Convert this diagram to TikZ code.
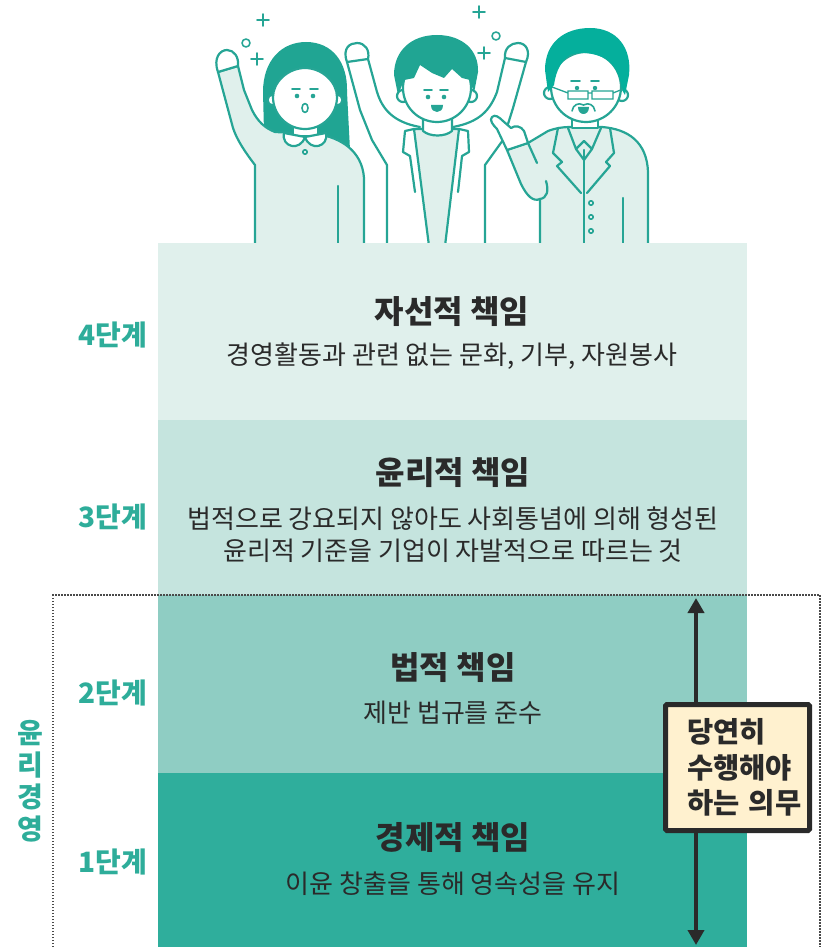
\documentclass[tikz,border=0pt]{standalone}
\usepackage{fontspec}
\usetikzlibrary{arrows.meta}
\newfontfamily\kr{Noto Sans CJK KR}
\definecolor{tline}{HTML}{26A595}
\definecolor{hairA}{HTML}{20A593}
\definecolor{hairB}{HTML}{05AF9C}
\definecolor{cloth}{HTML}{E0F0EC}
\definecolor{bandD}{HTML}{E0F0EC}
\definecolor{bandC}{HTML}{C5E4DE}
\definecolor{bandB}{HTML}{8FCDC3}
\definecolor{bandA}{HTML}{2FAE9C}
\definecolor{ink}{HTML}{2A2A2A}
\definecolor{stagecol}{HTML}{2EAD9A}
\definecolor{notefill}{HTML}{FFF1CF}
\definecolor{framecol}{HTML}{4A4A4A}

\begin{document}
\begin{tikzpicture}[x=1pt,y=-1pt,
  outline/.style={draw=tline, line width=2.2pt, line join=round, line cap=round},
  fine/.style={draw=tline, line width=1.6pt, line cap=round, line join=round},
  band/.style={draw=none, minimum width=589pt, inner sep=0pt, outer sep=0pt},
  title/.style={font=\kr\bfseries\fontsize{32}{38}\selectfont, text=ink, inner sep=0pt},
  desc/.style={font=\kr\fontsize{26}{32}\selectfont, text=ink, align=center, inner sep=0pt},
  stage/.style={font=\kr\bfseries\fontsize{28}{32}\selectfont, text=stagecol, inner sep=0pt, align=center},
  notebox/.style={draw=ink, line width=5pt, fill=notefill, rounded corners=1.5pt,
    minimum width=144pt, minimum height=126pt, text width=101pt, align=left,
    font=\kr\bfseries\fontsize{28.5}{35.5}\selectfont, text=ink, inner sep=0pt},
  dutyarrow/.style={draw=ink, line width=4pt, -{Triangle[width=16pt,length=15pt]}},
  frame/.style={draw=framecol, line width=1.5pt, dash pattern=on 1.5pt off 1.5pt}
]
\useasboundingbox (0,0) rectangle (828,947);

% ---------- sparkles ----------
\draw[fine] (263,14) -- (263,26) (257,20) -- (269,20);
\draw[fine] (257,53) -- (257,65) (251,59) -- (263,59);
\draw[fine] (246,43) circle[radius=4];
\draw[fine] (479,6) -- (479,18) (473,12) -- (485,12);
\draw[fine] (484,47) -- (484,59) (478,53) -- (490,53);
\draw[fine] (496,36) circle[radius=4];

% ---------- woman ----------
\fill[hairA] (264,132) -- (263,92) .. controls (263,60) and (282,42) .. (306,42)
  .. controls (332,42) and (348,62) .. (347,92) -- (350,150) -- (300,140) -- cycle;
\filldraw[outline, fill=cloth] (238,66) -- (244,90) -- (252,110)
  .. controls (258,122) and (265,128) .. (275,132) -- (318,134)
  .. controls (340,138) and (362,150) .. (364,178) -- (364,246) -- (255,246) -- (255,165)
  .. controls (245,152) and (237,140) .. (233,128) -- (218,72) -- cycle;
\filldraw[outline, fill=white] (218,72) .. controls (213,58) and (220,50) .. (227,50)
  .. controls (234,50) and (239,57) .. (238,66) -- cycle;
\draw[outline] (338,186) -- (338,246);
\filldraw[outline, fill=white] (293,122) -- (293,136) -- (318,136) -- (318,122);
\filldraw[outline, fill=white] (273,100) circle[radius=5.5];
\filldraw[outline, fill=white] (337,100) circle[radius=5.5];
\filldraw[outline, fill=white] (273,97) .. controls (273,114.7) and (287.3,129) .. (305,129)
  .. controls (322.7,129) and (337,114.7) .. (337,97)
  .. controls (337,82) and (322,68) .. (305,68)
  .. controls (288,68) and (273,82) .. (273,97) -- cycle;
\fill[hairA] (272,95) .. controls (276,78) and (284,66) .. (298,63)
  .. controls (308,62) and (318,66) .. (323,69) .. controls (330,66) and (337,76) .. (338,90)
  -- (340,70) -- (300,52) -- (268,70) -- cycle;
\filldraw[outline, fill=white] (284,133) .. controls (281,147) and (300,152) .. (305,137) -- cycle;
\filldraw[outline, fill=white] (326,133) .. controls (329,147) and (310,152) .. (305,137) -- cycle;
\draw[fine] (305,152) circle[radius=2.2];
\fill[tline] (297,96) circle[radius=2.3] (313,96) circle[radius=2.3];
\draw[fine] (292,89) -- (300,89) (310,89) -- (318,89);
\draw[fine] (305,108) ellipse[x radius=3, y radius=4.5];

% ---------- young man ----------
\draw[outline] (347,62) -- (360,110) -- (372,140) -- (387,165) -- (387,246);
\draw[outline] (368,59) -- (377,92) .. controls (382,108) and (392,122) .. (420,127);
\filldraw[outline, fill=white] (347,62) .. controls (342,48) and (350,43) .. (357,43)
  .. controls (365,43) and (370,50) .. (368,59) -- cycle;
\draw[outline] (526,62) -- (513,108) -- (503,140) -- (485,165) -- (485,246);
\draw[outline] (505,58) -- (497,92) .. controls (490,110) and (480,122) .. (453,127);
\filldraw[outline, fill=white] (505,58) .. controls (504,48) and (511,43) .. (518,43)
  .. controls (526,43) and (531,51) .. (526,62) -- cycle;
\filldraw[outline, fill=cloth] (414,129) -- (459,129) -- (445,246) -- (429,246) -- cycle;
\filldraw[outline, fill=white] (423,116) -- (423,131) .. controls (430,137) and (445,137) .. (452,131) -- (452,116);
\draw[outline] (414,129) -- (405,131) -- (403,152) -- (410,156) -- (415,192);
\draw[outline] (459,129) -- (468,131) -- (469,152) -- (462,156) -- (458,192);
\filldraw[outline, fill=white] (403,96) circle[radius=6];
\filldraw[outline, fill=white] (471,96) circle[radius=6];
\filldraw[outline, fill=white] (437,88) circle[radius=34];
\fill[hairA] (398,95) -- (394,75) .. controls (394,50) and (412,35) .. (437,35)
  .. controls (462,35) and (479,50) .. (478,72) -- (474,93) -- (470,80) -- (462,78)
  -- (452,69) -- (444,78) -- (432,73) -- (420,65) -- (414,78) -- (404,80) -- cycle;
\fill[tline] (428,97) circle[radius=2.3] (444,97) circle[radius=2.3];
\draw[fine] (424,90) -- (432,90) (440,90) -- (448,90);
\fill[tline] (431,105) -- (443,105) .. controls (443,110) and (440,112) .. (437,112)
  .. controls (434,112) and (431,110) .. (431,105) -- cycle;

% ---------- older man ----------
\filldraw[outline, fill=cloth] (528,143) -- (548,131) .. controls (556,128) and (563,127) .. (570,127)
  -- (602,127) .. controls (628,129) and (647,142) .. (648,172) -- (648,246) -- (540,246)
  -- (540,199) .. controls (533,202) and (527,196) .. (521,184) -- (507,150) -- cycle;
\draw[outline] (528,143) -- (537,163);
\draw[outline] (546,181) .. controls (549,191) and (547,198) .. (540,199);
\filldraw[outline, fill=white] (507,150) -- (497,129) .. controls (493,125) and (489,120) .. (492,117)
  .. controls (495,114) and (499,117) .. (503,121) -- (511,128)
  .. controls (515,125) and (521,126) .. (524,131) -- (528,143) -- cycle;
\draw[outline] (623,198) -- (623,246);
\draw[outline] (584,150) -- (584,246);
\filldraw[outline, fill=white] (572,116) -- (572,128) -- (598,128) -- (598,116);
\draw[outline] (568,128) -- (576,149) -- (584,141) -- (592,149) -- (601,128);
\draw[outline] (576,149) -- (584,160) -- (592,149);
\draw[outline] (558,128) -- (553,153) -- (562,162) -- (557,166) -- (581,193);
\draw[outline] (610,128) -- (614,153) -- (606,162) -- (610,166) -- (587,193);
\draw[fine] (591,203) circle[radius=2.2] (591,217) circle[radius=2.2] (591,231) circle[radius=2.2];
\filldraw[outline, fill=white] (550,93) circle[radius=6];
\filldraw[outline, fill=white] (622,95) circle[radius=6];
\filldraw[outline, fill=white] (586,87) circle[radius=35];
\fill[hairB] (548,92) -- (545,70) .. controls (545,42) and (565,28) .. (590,28)
  .. controls (617,28) and (632,48) .. (629,75) -- (625,95) -- (622,90)
  .. controls (620,75) and (614,62) .. (602,57) .. controls (590,52) and (578,52) .. (570,55)
  .. controls (562,60) and (556,70) .. (554,85) -- cycle;
\fill[tline] (577,88) circle[radius=2.2] (595,88) circle[radius=2.2];
\draw[fine] (571,81) -- (580,81) (591,81) -- (599,81);
\draw[draw=tline, line width=1.3pt] (568,91) rectangle (588,99) (592,91) rectangle (613,99)
  (588,93) -- (592,93) (568,93) -- (552,87) (613,93) -- (623,89);
\fill[tline] (578,107) -- (589,107) .. controls (589,112) and (586,114) .. (583.5,114)
  .. controls (581,114) and (578,112) .. (578,107) -- cycle;
\draw[fine] (572,111) .. controls (573,105) and (578,102) .. (583.5,105)
  .. controls (589,102) and (594,105) .. (595,111);

% ---------- responsibility levels ----------
\node[band, fill=bandD, minimum height=177pt] (lv4) at (452.5,331.5) {};
\node[band, fill=bandC, minimum height=175pt] (lv3) at (452.5,507.5) {};
\node[band, fill=bandB, minimum height=178pt] (lv2) at (452.5,684) {};
\node[band, fill=bandA, minimum height=175pt] (lv1) at (452.5,860.5) {};

\node[title] (t4) at (452,312) {자선적 책임};
\node[desc] (d4) at (452,356) {경영활동과 관련 없는 문화, 기부, 자원봉사};
\node[title] (t3) at (453,473) {윤리적 책임};
\node[desc] (d3) at (453,535) {법적으로 강요되지 않아도 사회통념에 의해 형성된\\윤리적 기준을 기업이 자발적으로 따르는 것};
\node[title] (t2) at (453,668) {법적 책임};
\node[desc] (d2) at (453,713) {제반 법규를 준수};
\node[title] (t1) at (453,838) {경제적 책임};
\node[desc] (d1) at (453,884) {이윤 창출을 통해 영속성을 유지};

\node[stage] (s4) at (113,335) {4단계};
\node[stage] (s3) at (113,517) {3단계};
\node[stage] (s2) at (113,693) {2단계};
\node[stage] (s1) at (113,862) {1단계};

% ---------- ethical management frame ----------
\draw[frame] (53,950) -- (53,595) -- (820,595) -- (820,950);
\node[stage] (ethics) at (30,781) {윤\\리\\경\\영};

% ---------- duty arrow and note ----------
\coordinate (uptip) at (696,598);
\coordinate (downtip) at (696,945);
\node[notebox] (duty) at (737.5,767.5) {당연히\\수행해야\\하는~의무};
\draw[dutyarrow] (duty.north -| uptip) -- (uptip);
\draw[dutyarrow] (duty.south -| downtip) -- (downtip);
\end{tikzpicture}
\end{document}
